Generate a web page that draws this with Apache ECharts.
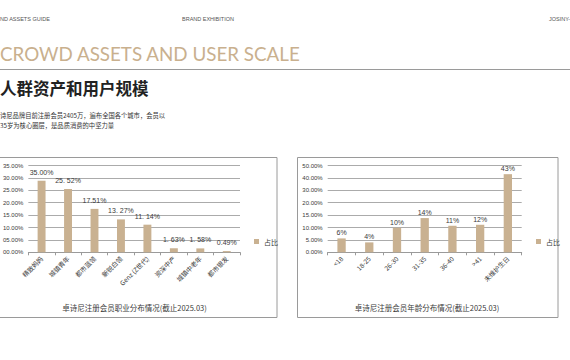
<!DOCTYPE html>
<html><head><meta charset="utf-8">
<script src="https://cdn.jsdelivr.net/npm/echarts@6/dist/echarts.min.js"></script>
<style>html,body{margin:0;padding:0;background:#fff;}#c{width:570px;height:360px;}</style>
</head><body><div id="c"></div>
<script>
// ---- data ----
const jobCategories = ['精致妈妈','城镇青年','都市蓝领','新锐白领','Genz (Z世代)','资深中产','城镇中老年','都市银发'];
const jobValues = [28.86, 25.52, 17.51, 13.27, 11.14, 1.63, 1.58, 0.49];
const jobLabels = ['35.00%','25. 52%','17.51%','13. 27%','11. 14%','1. 63%','1. 58%','0.49%'];
const jobTicks = ['00.00%','05.00%','10.00%','15.00%','20.00%','25.00%','30.00%','35.00%'];

const ageCategories = ['<18','18-25','26-30','31-35','36-40','>41','未维护生日'];
const ageValues = [5.6, 4.0, 9.9, 13.8, 10.7, 11.1, 43];
const ageLabels = ['6%','4%','10%','14%','11%','12%','43%'];
const ageTickValues = [0, 5, 10, 15, 20, 30, 40, 50];
const ageTicks = ['0.00%','5.00%','10.00%','15.00%','20.00%','30.00%','40.00%','50.00%'];

const seriesName = '占比';

// piecewise axis of the age chart: tick index position
function ageToIndex(v){
  for (let i = 1; i < ageTickValues.length; i++) {
    if (v <= ageTickValues[i]) {
      const a = ageTickValues[i-1], b = ageTickValues[i];
      return (i-1) + (v-a)/(b-a);
    }
  }
  return ageTickValues.length-1;
}

const BAR = '#c9b191';
const TXT = '#3a3a3a';
const chart = echarts.init(document.getElementById('c'), null, {renderer:'svg'});

const catAxisCommon = {
  type:'category',
  axisLine:{lineStyle:{color:'#9a9a9a', width:1}},
  axisTick:{show:true, length:3, lineStyle:{color:'#9a9a9a'}},
  axisLabel:{rotate:45, fontSize:6.5, color:TXT, margin:5, interval:0, fontFamily:'Noto Sans CJK SC'}
};
const valAxisCommon = {
  type:'value',
  axisLine:{show:false}, axisTick:{show:false},
  splitLine:{lineStyle:{color:'#ababab', width:1}},
  axisLabel:{fontSize:6, color:TXT, margin:5, fontFamily:'Liberation Sans'}
};

chart.setOption({
  animation:false,
  graphic:[
    {type:'text', left:0, top:16, style:{text:'ND ASSETS GUIDE', fontSize:5.5, fill:'#555', fontFamily:'Liberation Sans'}},
    {type:'text', left:182, top:16, style:{text:'BRAND EXHIBITION', fontSize:5.5, fill:'#555', fontFamily:'Liberation Sans'}},
    {type:'text', left:549, top:16, style:{text:'JOSINY-', fontSize:5.5, fill:'#555', fontFamily:'Liberation Sans'}},
    {type:'text', left:0, top:44, style:{text:'CROWD ASSETS AND USER SCALE', fontSize:18.8, fill:'#c9b08e', fontFamily:'Lato', fontWeight:'normal'}},
    {type:'line', shape:{x1:0, y1:69.5, x2:570, y2:69.5}, style:{stroke:'#9a9a9a', lineWidth:1}},
    {type:'text', left:0, top:80, style:{text:'人群资产和用户规模', fontSize:16.5, fill:'#222', fontFamily:'Noto Sans CJK SC', fontWeight:'bold'}},
    {type:'text', left:0, top:112, style:{text:'诗尼品牌目前注册会员2405万，遍布全国各个城市，会员以', fontSize:6.3, fill:'#333', fontFamily:'Noto Sans CJK SC'}},
    {type:'text', left:0, top:122, style:{text:'35岁为核心圈层，是品质消费的中坚力量', fontSize:6.3, fill:'#333', fontFamily:'Noto Sans CJK SC'}},
    {type:'rect', shape:{x:-8, y:157.5, width:285, height:160}, style:{fill:'none', stroke:'#9a9a9a', lineWidth:1}},
    {type:'rect', shape:{x:297.5, y:157.5, width:260.5, height:160}, style:{fill:'none', stroke:'#9a9a9a', lineWidth:1}},
    {type:'text', x:134.5, y:307, style:{text:'卓诗尼注册会员职业分布情况(截止2025.03)', fontSize:7.5, fill:TXT, align:'center', verticalAlign:'middle', fontFamily:'Noto Sans CJK SC'}},
    {type:'text', x:427, y:307, style:{text:'卓诗尼注册会员年龄分布情况(截止2025.03)', fontSize:7.5, fill:TXT, align:'center', verticalAlign:'middle', fontFamily:'Noto Sans CJK SC'}}
  ],
  legend:[
    {data:[seriesName], left:249, top:233, itemWidth:5, itemHeight:5, itemGap:3, icon:'rect',
     textStyle:{fontSize:7, color:TXT, fontFamily:'Noto Sans CJK SC'}},
    {data:[seriesName], left:531, top:233, itemWidth:5, itemHeight:5, itemGap:3, icon:'rect',
     textStyle:{fontSize:7, color:TXT, fontFamily:'Noto Sans CJK SC'}}
  ],
  grid:[
    {left:23, right:330, top:165.5, bottom:107.7},
    {left:327.7, right:48.3, top:165.5, bottom:107.7}
  ],
  xAxis:[
    Object.assign({}, catAxisCommon, {gridIndex:0, data:jobCategories}),
    Object.assign({}, catAxisCommon, {gridIndex:1, data:ageCategories})
  ],
  yAxis:[
    Object.assign({}, valAxisCommon, {gridIndex:0, min:0, max:35, interval:5,
      axisLabel:Object.assign({}, valAxisCommon.axisLabel, {formatter:(v)=>jobTicks[Math.round(v/5)]})}),
    Object.assign({}, valAxisCommon, {gridIndex:1, min:0, max:ageTickValues.length-1, interval:1,
      axisLabel:Object.assign({}, valAxisCommon.axisLabel, {formatter:(v)=>ageTicks[Math.round(v)]})})
  ],
  series:[
    {name:seriesName, type:'bar', xAxisIndex:0, yAxisIndex:0, barWidth:'30%',
     itemStyle:{color:BAR}, data:jobValues,
     label:{show:true, position:'top', distance:5, fontSize:7, color:TXT, fontFamily:'Liberation Sans',
       formatter:(p)=>jobLabels[p.dataIndex]}},
    {name:seriesName, type:'bar', xAxisIndex:1, yAxisIndex:1, barWidth:'30%',
     itemStyle:{color:BAR}, data:ageValues.map(ageToIndex),
     label:{show:true, position:'top', distance:2, fontSize:7, color:TXT, fontFamily:'Liberation Sans',
       formatter:(p)=>ageLabels[p.dataIndex]}}
  ]
});
</script>
</body></html>
